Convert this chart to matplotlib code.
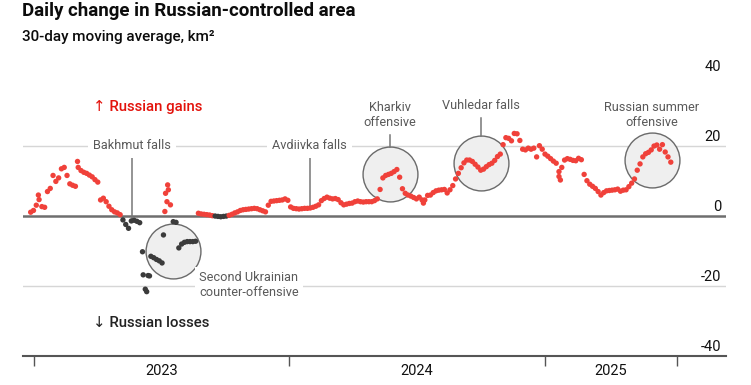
import matplotlib
matplotlib.use("Agg")
import matplotlib.pyplot as plt
import matplotlib.transforms as mtransforms
from matplotlib import font_manager
import pandas as pd

# 30-day moving average of the daily change in Russian-controlled area, km2
# one reading every 4 days, starting 27 Dec 2022
start = "2022-12-27"
step_days = 4
values = [
    1.0, 1.5, 3.0, 4.6, 2.6, 2.4, 6.9, 7.8, 11.5, 9.8,
    10.8, 13.4, 13.8, 11.5, 9.1, 8.7, 8.4, 13.8, 12.9, 12.4,
    12.1, 11.6, 11.1, 10.3, 9.6, 4.5, 5.0, 4.0, 2.7, 1.7,
    1.1, 0.8, 0.3, -1.2, -2.5, -3.6, -1.5, -1.3, -1.6, -2.0,
    -10.3, -21.0, -17.1, -11.6, -12.0, -12.5, -12.9, -13.5, 1.2, 8.8,
    3.1, -1.7, -1.9, -9.2, -8.1, -7.6, -7.4, -7.4, -7.4, -7.3,
    0.7, 0.5, 0.4, 0.3, 0.2, 0.0, -0.1, -0.2, -0.3, -0.2,
    -0.1, 0.1, 0.4, 0.8, 1.1, 1.5, 1.7, 1.8, 1.9, 2.0,
    2.1, 2.0, 1.7, 1.4, 1.1, 3.0, 4.1, 4.2, 4.3, 4.4,
    4.5, 4.8, 4.4, 2.5, 2.1, 2.0, 1.9, 2.0, 2.1, 2.1,
    2.2, 2.4, 2.7, 3.1, 4.3, 4.9, 5.3, 5.0, 4.8, 4.9,
    4.6, 3.7, 3.1, 3.3, 3.5, 3.6, 4.0, 4.2, 4.0, 3.9,
    4.0, 4.0, 4.0, 4.3, 4.8, 7.5, 10.8, 11.5, 11.8, 12.1,
    12.6, 13.2, 11.0, 7.7, 6.4, 5.9, 5.6, 5.2, 4.8, 5.3,
    4.5, 4.5, 5.8, 5.9, 6.6, 7.1, 7.3, 7.4, 7.5, 6.5,
    7.4, 8.6, 10.5, 12.1, 13.7, 15.1, 15.9, 15.9, 15.5, 14.7,
    13.9, 13.0, 13.3, 14.0, 14.6, 15.0, 15.8, 16.9, 17.6, 20.3,
    22.3, 22.1, 21.4, 23.5, 23.4, 21.5, 19.0, 18.8, 19.3, 19.0,
    19.3, 16.8, 20.0, 19.0, 17.6, 17.0, 16.3, 15.6, 15.0, 12.6,
    13.8, 15.9, 16.3, 16.1, 15.8, 15.7, 16.4, 16.0, 11.8, 10.0,
    9.0, 8.4, 7.8, 6.9, 5.9, 6.6, 7.1, 7.2, 7.3, 7.4,
    7.6, 7.0, 7.3, 7.4, 8.3, 9.3, 10.5, 13.0, 14.8, 16.8,
    17.7, 18.1, 18.8, 19.9, 20.2, 19.0, 20.3, 18.2, 16.8, 15.3,
]

# stray daily readings where the average jumps about
extra_dates = ["2023-01-07", "2023-03-04", "2023-06-06", "2023-06-11",
               "2023-06-15", "2023-07-05", "2023-07-08", "2023-07-10",
               "2023-07-12", "2024-07-11", "2025-01-21", "2025-01-23"]
extra_values = [5.9, 15.5, -16.9, -21.7, -17.2, -5.5, 6.4, 4.0,
                7.4, 3.6, 11.2, 10.2]

year_ticks = ["2023-01-01", "2024-01-01", "2025-01-01", "2025-07-09"]
year_labels = ["2023", "2024", "2025"]
y_labels = [40, 20, 0, -20, -40]

RED = "#f0413a"
DARK = "#3b3b3b"
GREY_TXT = "#5a5a5a"

names = {f.name for f in font_manager.fontManager.ttflist}
NARROW = "Liberation Sans Narrow" if "Liberation Sans Narrow" in names else "Roboto"
plt.rcParams["font.family"] = [NARROW, "DejaVu Sans"]

dates = pd.date_range(start, periods=len(values), freq=f"{step_days}D")
series = pd.Series(values, index=dates)
extra = pd.Series(extra_values, index=pd.to_datetime(extra_dates))
allpts = pd.concat([series, extra]).sort_index()

fig = plt.figure(figsize=(7.51, 3.85), dpi=100)
ax = fig.add_axes([23 / 751, 1 - 355.7 / 385, 703 / 751, 280 / 385])
ax.set_xlim(pd.Timestamp("2022-12-16"), pd.Timestamp("2025-09-17"))
ax.set_ylim(-40, 40)

# grid and zero line
for g in (20, -20):
    ax.axhline(g, color="#d6d6d6", lw=1, zorder=0)
ax.axhline(0, color="#6e6e6e", lw=1.8, zorder=1)

# highlight circles (drawn as markers so they stay round)
circles = [("2024-05-24", 11.9), ("2024-10-01", 15.1),
           ("2025-06-03", 15.8), ("2023-07-18", -10.0)]
for d, v in circles:
    ax.plot(pd.Timestamp(d), v, "o", ms=39.5, mfc="#efefef", mec="#6a6a6a",
            mew=1.0, zorder=2)

# the dots
cols = [RED if v >= 0 else DARK for v in allpts.values]
ax.scatter(allpts.index, allpts.values, s=15, c=cols, linewidths=0, zorder=4)

# event markers
ann_kw = dict(color=GREY_TXT, fontsize=9.2, ha="center", va="center")
ax.plot([pd.Timestamp("2023-05-21")] * 2, [17, -0.7], color="#777", lw=1.1, zorder=3)
ax.text(pd.Timestamp("2023-05-21"), 20, "Bakhmut falls", zorder=3,
        bbox=dict(fc="white", ec="none", pad=4), **ann_kw)
ax.plot([pd.Timestamp("2024-01-30")] * 2, [17, 2.5], color="#777", lw=1.1, zorder=3)
ax.text(pd.Timestamp("2024-01-30"), 20, "Avdiivka falls", zorder=3,
        bbox=dict(fc="white", ec="none", pad=4), **ann_kw)

ax.plot([pd.Timestamp("2024-05-24")] * 2, [23.1, 19.7], color="#777", lw=1.1, zorder=3)
ax.text(pd.Timestamp("2024-05-24"), 28.8, "Kharkiv\noffensive",
        linespacing=1.2, **ann_kw)
ax.plot([pd.Timestamp("2024-10-01")] * 2, [27.9, 22.8], color="#777", lw=1.1, zorder=3)
ax.text(pd.Timestamp("2024-10-01"), 31.4, "Vuhledar falls", **ann_kw)
ax.text(pd.Timestamp("2025-06-03"), 28.8, "Russian summer\noffensive",
        linespacing=1.2, **ann_kw)
ax.text(pd.Timestamp("2023-08-25"), -19.8, "Second Ukrainian\ncounter-offensive",
        color=GREY_TXT, fontsize=9.2, ha="left", va="center", linespacing=1.2,
        zorder=3, bbox=dict(fc="white", ec="none", pad=3))

ax.text(pd.Timestamp("2023-03-26"), 31.1, "\u2191 Russian gains", color="#e3120b",
        fontsize=10.8, weight="medium", ha="left", va="center")
ax.text(pd.Timestamp("2023-03-26"), -30.6, "\u2193 Russian losses", color="#222",
        fontsize=10.8, weight="medium", ha="left", va="center")

# y labels sit above their lines on the right
trans = mtransforms.blended_transform_factory(ax.transAxes, ax.transData)
for v in y_labels:
    ax.annotate(str(v), xy=(1.0, v), xycoords=trans, xytext=(-3.5, 1.5),
                textcoords="offset points", ha="right", va="bottom",
                fontsize=10.5, color="#111")

# x axis
for s in ("top", "right", "left"):
    ax.spines[s].set_visible(False)
ax.spines["bottom"].set_color("#555")
ax.spines["bottom"].set_linewidth(1.5)
ax.set_yticks([])
ax.set_xticks(pd.to_datetime(year_ticks))
ax.set_xticklabels([])
ax.tick_params(axis="x", which="major", length=7, width=1, color="#555")
tk = pd.to_datetime(year_ticks)
mids = [tk[i] + (tk[i + 1] - tk[i]) / 2 for i in range(3)]
ax.set_xticks(mids, minor=True)
ax.set_xticklabels(year_labels, minor=True, fontsize=10.5, color="#111")
ax.tick_params(axis="x", which="minor", length=0, pad=6)

fig.text(22 / 751, 1 - 2 / 385, "Daily change in Russian-controlled area",
         fontsize=13.5, weight="bold", va="top", ha="left", color="#0c0c0c")
fig.text(22 / 751, 1 - 30 / 385, "30-day moving average, km\u00b2",
         fontsize=11, weight="medium", va="top", ha="left", color="#0c0c0c")

fig.savefig("out.png", dpi=100)
